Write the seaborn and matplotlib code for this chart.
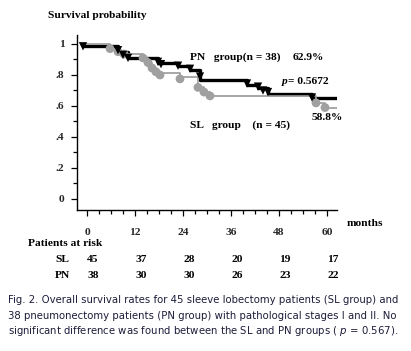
import matplotlib
matplotlib.use("Agg")
import matplotlib.pyplot as plt
import matplotlib.transforms as mtransforms
import numpy as np
import pandas as pd
import seaborn as sns

# ---- data ----
pn_times = [-1, 7.75, 10.25, 17.75, 22.75, 25.75, 28.25, 40, 42.75, 45.25, 56.25, 62.5]
pn_surv = [0.985, 0.95, 0.91, 0.88, 0.86, 0.83, 0.77, 0.735, 0.715, 0.68, 0.65, 0.65]
pn_cens_t = [-1, 7.75, 9, 10.25, 17.75, 18.5, 22.75, 25.75, 28.25, 40, 42.75, 44, 45.25, 56.25]
pn_cens_s = [0.985, 0.96, 0.93, 0.91, 0.885, 0.87, 0.86, 0.84, 0.79, 0.745, 0.725, 0.70, 0.69, 0.655]

sl_times = [-1, 5.75, 7.75, 9.25, 14, 15.25, 16.25, 17.25, 18.25, 23.25, 27.75, 29.25, 30.75, 57.25, 59.5, 62.5]
sl_surv = [1.0, 0.97, 0.95, 0.935, 0.91, 0.88, 0.845, 0.82, 0.81, 0.785, 0.72, 0.69, 0.665, 0.62, 0.59, 0.59]
sl_event_t = [5.75, 7.75, 9.25, 14, 15.25, 16.25, 17.25, 18.25, 23.25, 27.75, 29.25, 30.75, 57.25, 59.5]
sl_event_s = [0.97, 0.95, 0.935, 0.91, 0.88, 0.845, 0.82, 0.80, 0.775, 0.72, 0.69, 0.665, 0.62, 0.59]

x_ticks = [0, 12, 24, 36, 48, 60]
y_ticks = [0, 0.2, 0.4, 0.6, 0.8, 1.0]
y_tick_labels = ["0", ".2", ".4", ".6", ".8", "1"]
risk_sl = [45, 37, 28, 20, 19, 17]
risk_pn = [38, 30, 30, 26, 23, 22]

caption_lines = [
    "Fig. 2. Overall survival rates for 45 sleeve lobectomy patients (SL group) and",
    "38 pneumonectomy patients (PN group) with pathological stages I and II. No",
    "significant difference was found between the SL and PN groups ( $\\mathit{p}$ = 0.567).",
]

sns.set_style("white")
plt.rcParams['font.family'] = ['Liberation Serif', 'DejaVu Serif']

fig = plt.figure(figsize=(4.11, 3.51), dpi=100)
ax = fig.add_axes([77/411, 1-210/351, (337-77)/411, (210-35)/351])

pn_df = pd.DataFrame({"t": pn_times, "s": pn_surv})
sl_df = pd.DataFrame({"t": sl_times, "s": sl_surv})
pn_c = pd.DataFrame({"t": pn_cens_t, "s": pn_cens_s})
sl_e = pd.DataFrame({"t": sl_event_t, "s": sl_event_s})

sns.lineplot(data=pn_df, x="t", y="s", ax=ax, drawstyle="steps-post",
             color="black", linewidth=2.4, estimator=None, sort=False, zorder=2)
sns.lineplot(data=sl_df, x="t", y="s", ax=ax, drawstyle="steps-post",
             color="#9a9a9a", linewidth=1.2, estimator=None, sort=False, zorder=3)
sns.scatterplot(data=sl_e, x="t", y="s", ax=ax, color="#a0a0a0", s=40,
                marker="o", edgecolor="none", zorder=4)
sns.scatterplot(data=pn_c, x="t", y="s", ax=ax, color="black", s=36,
                marker="v", edgecolor="none", zorder=5)

ax.set_xlim(-2.5, 62.5)
ax.set_ylim(-0.071, 1.058)
ax.set_xlabel("")
ax.set_ylabel("")
for sp in ["top", "right"]:
    ax.spines[sp].set_visible(False)
for sp in ["left", "bottom"]:
    ax.spines[sp].set_color("black")
    ax.spines[sp].set_linewidth(1.0)

ax.set_xticks(x_ticks)
ax.set_xticklabels([str(v) for v in x_ticks])
ax.set_xticks(np.arange(0, 61, 3), minor=True)
ax.set_yticks(y_ticks)
ax.set_yticklabels(y_tick_labels)
ax.set_yticks(np.arange(0.1, 1.0, 0.2), minor=True)
ax.tick_params(axis="both", which="both", direction="out", color="black",
               left=True, bottom=True, width=0.9)
ax.tick_params(axis="both", which="major", length=4, labelsize=8.2)
ax.tick_params(axis="both", which="minor", length=3)
ax.tick_params(axis="x", which="major", pad=9)
ax.tick_params(axis="y", which="major", pad=5)
for lab in ax.get_xticklabels() + ax.get_yticklabels():
    lab.set_fontweight("bold")

bold = dict(fontweight="bold", fontsize=8.2, color="black")
fig.text(48/411, 1-15/351, "Survival probability", va="center", ha="left", **bold)
fig.text(190/411, 1-57/351, "PN   group(n = 38)", va="center", ha="left", **bold)
fig.text(293/411, 1-57/351, "62.9%", va="center", ha="left", **bold)
fig.text(282/411, 1-82/351, "p", va="center", ha="left", style="italic", **bold)
fig.text(288/411, 1-82/351, "= 0.5672", va="center", ha="left", **bold)
fig.text(190/411, 1-125/351, "SL   group    (n = 45)", va="center", ha="left", **bold)
fig.text(312/411, 1-118/351, "58.8%", va="center", ha="left", **bold)
fig.text(347/411, 1-224/351, "months", va="center", ha="left", **bold)
fig.text(28/411, 1-243/351, "Patients at risk", va="center", ha="left", **bold)
fig.text(55/411, 1-260/351, "SL", va="center", ha="left", **bold)
fig.text(55/411, 1-275/351, "PN", va="center", ha="left", **bold)

trans = mtransforms.blended_transform_factory(ax.transData, fig.transFigure)
for xv, a, b in zip(x_ticks, risk_sl, risk_pn):
    ax.text(xv + 1.5, 1-260/351, str(a), transform=trans, ha="center", va="center", **bold)
    ax.text(xv + 1.5, 1-275/351, str(b), transform=trans, ha="center", va="center", **bold)

for line, yp in zip(caption_lines, [300, 316, 331]):
    fig.text(8/411, 1-yp/351, line, ha="left", va="center", fontsize=7.3,
             family=["DejaVu Sans"], color="#1c1c3a")

fig.savefig("out.png", dpi=100)
